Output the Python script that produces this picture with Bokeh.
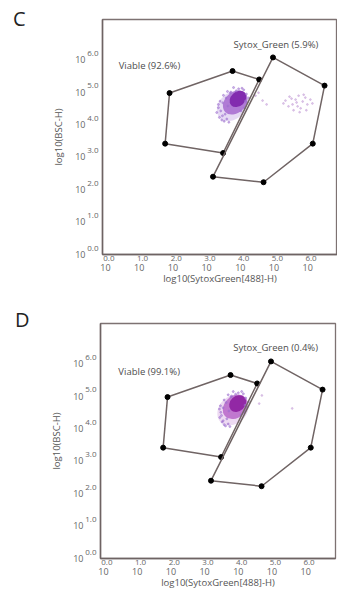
from bokeh.plotting import figure
from bokeh.models import FixedTicker, Label, Range1d, LinearAxis, Div
from bokeh.layouts import column, row
from bokeh.embed import file_html
from bokeh.resources import INLINE

# ---------------- data ----------------
x_ticks = [0, 1, 2, 3, 4, 5, 6]
y_ticks = [0, 1, 2, 3, 4, 5, 6]
tick_base = ["10", "10", "10", "10", "10", "10", "10"]
tick_exp = ["0.0", "1.0", "2.0", "3.0", "4.0", "5.0", "6.0"]

# gates (log10 units)
viable_x = [1.90, 3.77, 4.56, 3.49, 1.77]
viable_y = [4.78, 5.46, 5.20, 2.93, 3.22]
sytox_x = [4.97, 6.50, 6.15, 4.69, 3.19]
sytox_y = [5.88, 5.01, 3.22, 2.03, 2.20]

panels = ["C", "D"]
viable_pct = ["Viable (92.6%)", "Viable (99.1%)"]
sytox_pct = ["Sytox_Green (5.9%)", "Sytox_Green (0.4%)"]

# main population density layers (centre, size, angle)
c_cloud_x = [3.76, 3.85, 3.93]
c_cloud_y = [4.38, 4.49, 4.60]
c_cloud_w = [1.02, 0.82, 0.55]
c_cloud_h = [0.80, 0.64, 0.44]
c_cloud_color = ["#c8ade6", "#9448c4", "#7a1fa8"]
d_cloud_x = [3.84, 3.91, 3.98]
d_cloud_y = [4.38, 4.48, 4.58]
d_cloud_w = [1.02, 0.82, 0.55]
d_cloud_h = [0.84, 0.66, 0.46]
d_cloud_color = ["#d8aee2", "#a844bc", "#8a1a9e"]
cloud_alpha = [0.45, 0.65, 0.85]
cloud_angle = [0.75, 0.75, 0.75]

# fringe events of the main population
c_dot_x = [3.30, 3.38, 3.45, 3.35, 3.52, 3.48, 3.60, 3.42, 3.55, 3.66, 3.40, 3.58,
           3.70, 3.50, 3.62, 4.10, 4.18, 4.25, 4.05, 4.20, 3.95, 4.12, 3.88, 4.02,
           3.80, 3.72, 4.15, 3.35, 3.47, 3.63]
c_dot_y = [4.18, 4.03, 3.95, 4.33, 3.91, 4.48, 3.98, 4.23, 4.13, 3.88, 4.53, 4.63,
           4.78, 4.71, 4.83, 4.88, 4.75, 4.63, 4.93, 4.48, 4.91, 4.33, 4.85, 4.23,
           4.95, 4.81, 4.53, 4.43, 4.08, 4.38]
d_dot_x = [3.45, 3.52, 3.58, 3.48, 3.62, 3.55, 3.70, 3.50, 3.66, 3.75, 3.47, 3.64,
           3.78, 3.58, 3.70, 4.15, 4.22, 4.30, 4.10, 4.25, 4.00, 4.18, 3.92, 4.08,
           3.85, 3.80, 4.20, 3.44, 3.55, 3.72]
d_dot_y = [4.15, 4.01, 3.93, 4.31, 3.89, 4.45, 3.95, 4.21, 4.11, 3.87, 4.51, 4.61,
           4.78, 4.69, 4.85, 4.88, 4.75, 4.63, 4.95, 4.48, 4.91, 4.33, 4.87, 4.23,
           4.95, 4.81, 4.53, 4.41, 4.05, 4.35]

# sparse Sytox-positive events
c_spk_x = [5.34, 5.46, 5.55, 5.64, 5.73, 5.79, 5.85, 5.93, 5.99, 6.08, 5.58, 5.43,
           5.67, 5.88, 5.28, 5.76, 5.96, 5.52, 6.14, 5.70, 4.45, 4.66, 4.54, 4.78]
c_spk_y = [4.55, 4.67, 4.43, 4.58, 4.70, 4.31, 4.52, 4.64, 4.43, 4.58, 4.25, 4.37,
           4.49, 4.73, 4.46, 4.19, 4.25, 4.61, 4.46, 4.37, 4.70, 4.55, 4.79, 4.43]
d_spk_x = [4.62, 4.70, 5.60]
d_spk_y = [4.58, 4.83, 4.43]

FONT = "Open Sans"
AX = "#6e6363"
TXT = "#666666"
X0, X1 = -0.089, 6.884
Y0, Y1 = -0.2, 7.05
SUP_DX = 0.10    # superscript shift to the right (axis units)
BASE_DY = -0.19  # "10" sits below its exponent (axis units)


def style_axis(ax, size):
    ax.major_label_text_font = FONT
    ax.major_label_text_font_size = size
    ax.major_label_text_color = TXT
    ax.major_tick_out = 0
    ax.major_tick_in = 0
    ax.minor_tick_out = 0
    ax.minor_tick_in = 0
    ax.axis_label_text_font = FONT
    ax.axis_label_text_font_size = "9.5px"
    ax.axis_label_text_font_style = "normal"
    ax.axis_label_text_color = "#555555"


def panel(idx, left, right, top, bottom, cx, cy, cw, ch, ccol, dx, dy, sx, sy,
          vpos, spos):
    p = figure(frame_width=235, frame_height=235,
               x_range=Range1d(X0, X1), y_range=Range1d(Y0, Y1),
               output_backend="svg", toolbar_location=None,
               min_border_left=left, min_border_right=right,
               min_border_top=top, min_border_bottom=bottom,
               background_fill_color="white", border_fill_color="white")
    p.grid.visible = False
    p.outline_line_color = "#7d7272"
    p.outline_line_width = 1.3

    # inner axes: exponents
    xe = [t + SUP_DX for t in x_ticks]
    p.xaxis.ticker = FixedTicker(ticks=xe)
    p.xaxis.major_label_overrides = {t: e for t, e in zip(xe, tick_exp)}
    style_axis(p.xaxis[0], "8px")
    p.xaxis.axis_line_color = AX
    p.xaxis.axis_line_width = 1.5
    p.xaxis.major_label_standoff = 1

    p.yaxis.ticker = FixedTicker(ticks=y_ticks)
    p.yaxis.major_label_overrides = {t: e for t, e in zip(y_ticks, tick_exp)}
    style_axis(p.yaxis[0], "8px")
    p.yaxis.axis_line_color = AX
    p.yaxis.axis_line_width = 1.5
    p.yaxis.major_label_standoff = 4

    # outer axes: base "10" and titles
    xb = LinearAxis(ticker=FixedTicker(ticks=x_ticks),
                    major_label_overrides={t: b for t, b in zip(x_ticks, tick_base)},
                    axis_label="log10(SytoxGreen[488]-H)")
    style_axis(xb, "9px")
    xb.axis_line_color = None
    xb.major_label_standoff = 0
    xb.axis_label_standoff = -2
    p.add_layout(xb, "below")

    yb_t = [t + BASE_DY for t in y_ticks]
    yb = LinearAxis(ticker=FixedTicker(ticks=yb_t),
                    major_label_overrides={t: b for t, b in zip(yb_t, tick_base)},
                    axis_label="log10(BSC-H)")
    style_axis(yb, "9px")
    yb.axis_line_color = None
    yb.major_label_standoff = -1
    yb.axis_label_standoff = 7
    p.add_layout(yb, "left")

    # population
    p.ellipse(x=cx, y=cy, width=cw, height=ch, angle=cloud_angle,
              fill_color=ccol, fill_alpha=cloud_alpha, line_color=None)
    p.scatter(dx, dy, size=2, color="#9d70cf", alpha=0.5)
    p.scatter(sx, sy, size=1.8, color="#c7a2d8", alpha=0.55)

    # gates
    for gx, gy in ((viable_x, viable_y), (sytox_x, sytox_y)):
        p.patch(gx, gy, fill_alpha=0, line_color="#706464", line_width=1.5)
        p.scatter(gx, gy, size=5, color="black")

    p.add_layout(Label(x=vpos[0], y=vpos[1], text=viable_pct[idx], text_font=FONT,
                       text_font_size="9.5px", text_color="#4d4d4d",
                       text_baseline="middle", text_align="left"))
    p.add_layout(Label(x=spos[0], y=spos[1], text=sytox_pct[idx], text_font=FONT,
                       text_font_size="9.5px", text_color="#4d4d4d",
                       text_baseline="middle", text_align="left"))
    return p


def letter(idx, top, left, h):
    html = (f'<div style="position:relative; top:{top}px; left:{left}px; '
            f'font-family:{FONT}; font-size:20px; line-height:20px; color:#222222;">'
            f'{panels[idx]}</div>')
    return Div(text=html, width=30, height=h, margin=0)


p1 = panel(0, 72, 0, 19, 50, c_cloud_x, c_cloud_y, c_cloud_w, c_cloud_h, c_cloud_color,
           c_dot_x, c_dot_y, c_spk_x, c_spk_y, (0.39, 5.63), (3.80, 6.28))
p2 = panel(1, 70, 2, 19, 39, d_cloud_x, d_cloud_y, d_cloud_w, d_cloud_h, d_cloud_color,
           d_dot_x, d_dot_y, d_spk_x, d_spk_y, (0.44, 5.57), (3.85, 6.31))

layout = column(row(letter(0, 9, 13, 304), p1, spacing=0),
                row(letter(1, 6, 15, 293), p2, spacing=0), spacing=0)
open("out.html", "w").write(file_html(layout, INLINE))
